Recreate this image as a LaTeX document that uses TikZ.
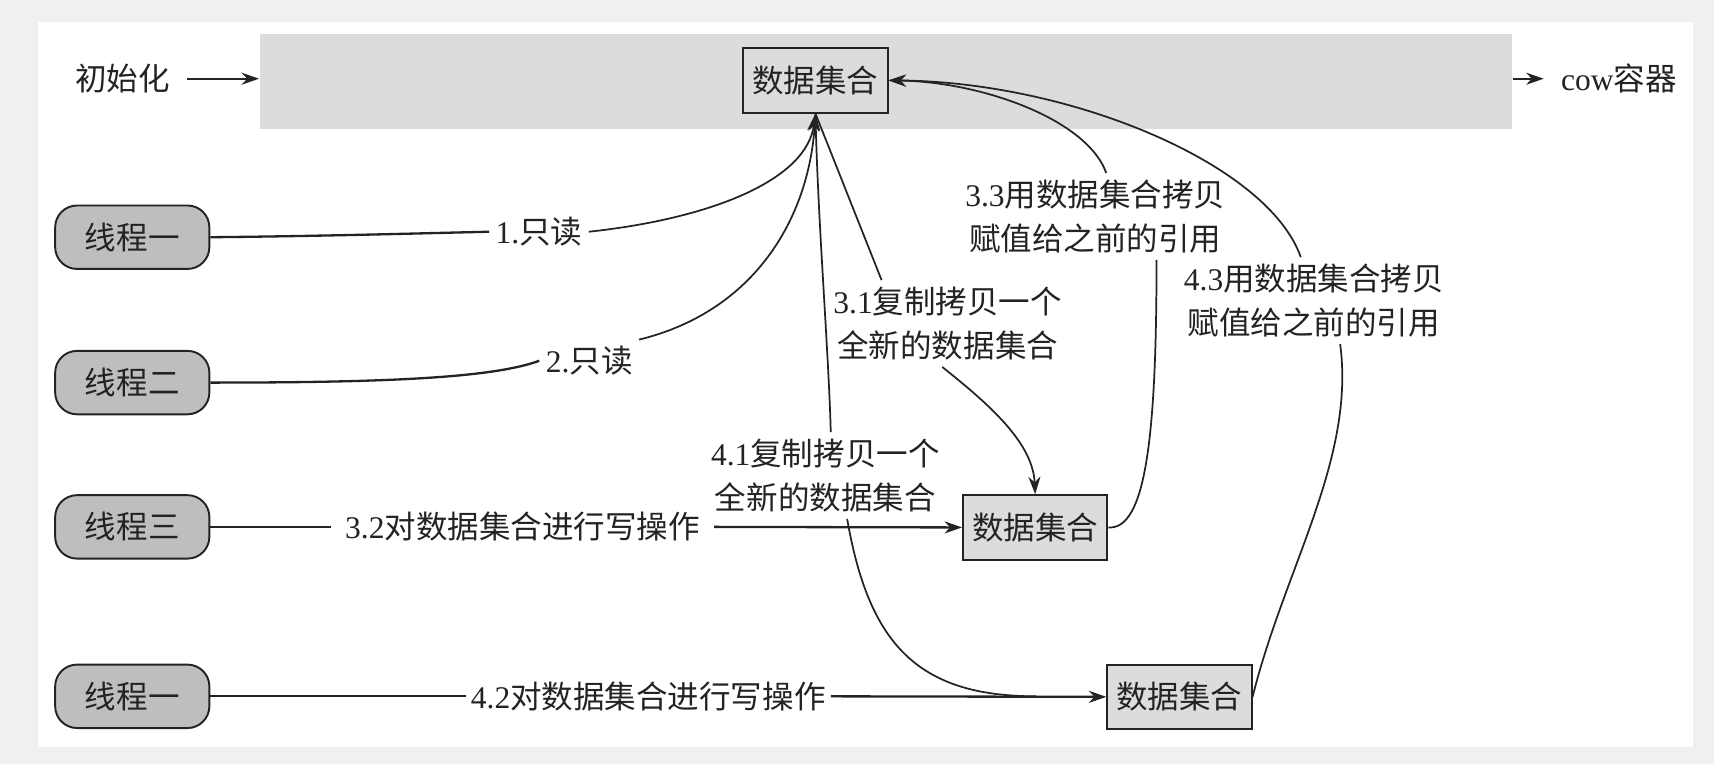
\documentclass[tikz,border=0pt]{standalone}
\usepackage{fontspec}
\setmainfont{Noto Sans CJK SC}
\newfontfamily\lat{Liberation Serif}
\usetikzlibrary{arrows.meta,calc}
\definecolor{bgout}{RGB}{240,240,240}
\definecolor{bandc}{RGB}{220,220,220}
\definecolor{thr}{RGB}{190,190,190}
\definecolor{ink}{RGB}{35,35,35}
\begin{document}
\begin{tikzpicture}[x=0.01cm,y=-0.01cm,
  txt/.style={font=\fontsize{8.2pt}{11.6pt}\selectfont, text=ink, inner sep=1.5pt, align=center},
  wlab/.style={txt, inner xsep=3.5pt},
  thread/.style={txt, draw=ink, fill=thr, rounded corners=0.2cm, minimum width=1.41cm, minimum height=0.58cm, line width=0.5pt},
  dset/.style={txt, draw=ink, fill=bandc, minimum width=1.32cm, minimum height=0.59cm, line width=0.5pt},
  conn/.style={draw=ink, line width=0.45pt},
  tconn/.style={draw=ink, line width=0.6pt},
  arr/.style={conn, -{Stealth[length=1.6mm,width=1.1mm]}},
  tarr/.style={tconn, -{Stealth[length=1.6mm,width=1.1mm]}},
]
% background
\fill[bgout] (0,0) rectangle (1568,699);
\fill[white] (35,20) rectangle (1549,683);
\node[fill=bandc, minimum width=11.45cm, minimum height=0.87cm, inner sep=0pt] (band) at (810.5,74.5) {};

% nodes
\node[dset] (top) at (746,73.5) {数据集合};
\node[txt] (init) at (112,72) {初始化};
\node[txt] (cow) at (1481,72) {{\lat cow}容器};

\node[thread] (t1) at (121,217) {线程一};
\node[thread] (t2) at (121,350) {线程二};
\node[thread] (t3) at (121,482) {线程三};
\node[thread] (t4) at (121,637) {线程一};

\node[dset] (B) at (947,482.5) {数据集合};
\node[dset] (C) at (1079,637.5) {数据集合};

% labels
\node[txt] (l1) at (493,212) {{\lat 1.}只读};
\node[txt] (l2) at (539,330) {{\lat 2.}只读};
\node[txt] (l31) at (867,296) {{\lat 3.1}复制拷贝一个\\全新的数据集合};
\node[wlab] (l32) at (478,482) {{\lat 3.2}对数据集合进行写操作};
\node[txt] (l33) at (1002,198) {{\lat 3.3}用数据集合拷贝\\赋值给之前的引用};
\node[txt] (l41) at (755,435) {{\lat 4.1}复制拷贝一个\\全新的数据集合};
\node[txt, inner xsep=1.2pt] (l42) at (593,637) {{\lat 4.2}对数据集合进行写操作};
\node[txt] (l43) at (1202,275) {{\lat 4.3}用数据集合拷贝\\赋值给之前的引用};
\coordinate (m42) at (948,637);

% init / cow arrows
\draw[arr] ([xshift=0.1cm]init.east) -- (init.east -| band.west);
\draw[arr] (cow.west -| band.east) -- ([xshift=-0.1cm]cow.west);

% 1 and 2 read
\draw[tconn] (t1.east) .. controls (300,216) and (400,213) .. (l1.west);
\draw[arr] (l1.east) .. controls (650,200) and (738,165) .. (top.south);
\draw[tconn] (t2.east) .. controls (350,350) and (450,346) .. (l2.west);
\draw[arr] (l2.north east) .. controls (690,285) and (740,200) .. (top.south);

% 3.x
\draw[conn] (top.south) -- ([xshift=0.5cm]l31.north west);
\draw[arr] ([xshift=-0.05cm]l31.south) .. controls (905,370) and (945,405) .. (B.north);
\draw[tconn] (t3.east) -- (l32.west);
\draw[tarr] (l32.east) -- (B.west);
\draw[conn] (B.east) .. controls (1048,485) and (1058,400) .. ([xshift=0.56cm]l33.south);
\draw[arr] ([xshift=0.1cm]l33.north) .. controls (995,110) and (900,75) .. (top.east);

% 4.x
\draw[conn] (top.south) .. controls (748,200) and (758,320) .. ([xshift=0.05cm]l41.north);
\draw[conn] ([xshift=0.2cm]l41.south) .. controls (795,590) and (840,637) .. (m42);
\draw[tconn] (t4.east) -- (l42.west);
\draw[tarr] (l42.east) -- (C.west);
\draw[conn] (C.east) .. controls (1175,520) and (1240,420) .. ([xshift=0.24cm]l43.south);
\draw[arr] ([xshift=-0.12cm]l43.north) .. controls (1160,150) and (980,75) .. (top.east);
\end{tikzpicture}
\end{document}
